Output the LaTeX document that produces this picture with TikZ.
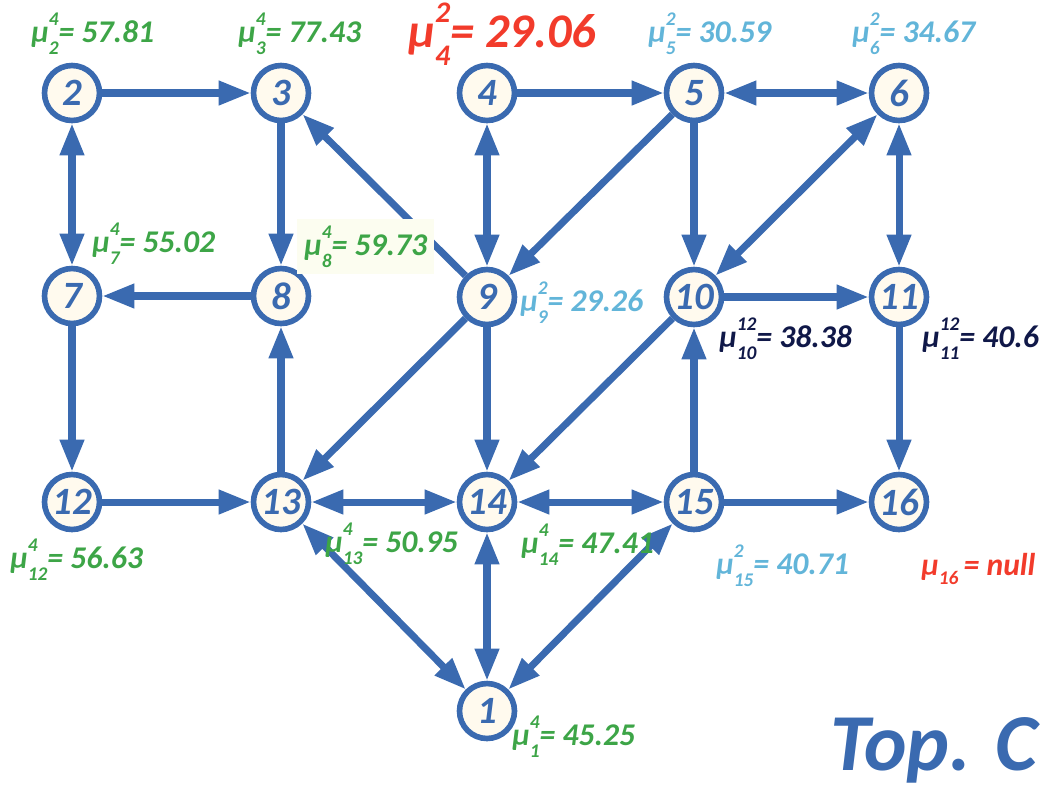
\documentclass[tikz,border=0pt]{standalone}
\usepackage{fontspec}
\setmainfont{Carlito}
\usetikzlibrary{arrows.meta}
\definecolor{nodeblue}{HTML}{3A6AB0}
\definecolor{nodefill}{HTML}{FFFAEE}
\definecolor{labgreen}{HTML}{3DA547}
\definecolor{labsky}{HTML}{62B5D9}
\definecolor{labnavy}{HTML}{101848}
\definecolor{labred}{HTML}{F23B2B}
\definecolor{labback}{HTML}{FCFDF0}
\newcommand{\scfont}{\fontsize{11}{11}\selectfont}
\newcommand{\mlab}[3]{μ\sbox0{\scfont #1}\sbox2{\scfont #2}%
  \rlap{\raisebox{1.05ex}{\usebox0}}\rlap{\raisebox{-0.8ex}{\usebox2}}%
  \kern\ifdim\wd0>\wd2 \wd0\else\wd2\fi\relax= #3}

\begin{document}
\begin{tikzpicture}[x=0.02cm,y=-0.02cm,
      vertex/.style={circle,draw=nodeblue,line width=3.2pt,fill=nodefill,minimum size=1.1cm,inner sep=0pt,
        text=nodeblue,font=\fontsize{22}{22}\selectfont\bfseries\itshape},
      link/.style={draw=nodeblue,line width=4pt,>={Triangle[length=0.64cm,width=0.46cm]}},
      value/.style={anchor=base west,inner sep=0pt,font=\fontsize{18}{18}\selectfont\bfseries\itshape}]

      \useasboundingbox (0,0) rectangle (1047,789);

      \node[vertex] (n2) at (72,93) {2};
      \node[vertex] (n3) at (281,93) {3};
      \node[vertex] (n4) at (487,93) {4};
      \node[vertex] (n5) at (694,93) {5};
      \node[vertex] (n6) at (899,93) {6};
      \node[vertex] (n7) at (72,296) {7};
      \node[vertex] (n8) at (281,296) {8};
      \node[vertex] (n9) at (487,297) {9};
      \node[vertex] (n10) at (694,297) {10};
      \node[vertex] (n11) at (899,297) {11};
      \node[vertex] (n12) at (72,502) {12};
      \node[vertex] (n13) at (281,502) {13};
      \node[vertex] (n14) at (487,502) {14};
      \node[vertex] (n15) at (694,502) {15};
      \node[vertex] (n16) at (899,502) {16};
      \node[vertex] (n1) at (487,711) {1};

      \foreach \a/\b in {n2/n3,n4/n5,n3/n8,n9/n3,n5/n9,n5/n10,n8/n7,n10/n11,n7/n12,n9/n13,
          n9/n14,n10/n14,n15/n10,n11/n16,n12/n13,n13/n8,n15/n16}
        \draw[link,->] (\a) -- (\b);
      \foreach \a/\b in {n5/n6,n2/n7,n4/n9,n6/n10,n6/n11,n13/n14,n14/n15,n1/n13,n1/n14,n1/n15}
        \draw[link,<->] (\a) -- (\b);

      \node[value,text=labgreen] (v2) at (31,42) {\mlab{4}{2}{57.81}};
      \node[value,text=labgreen] (v3) at (238,42) {\mlab{4}{3}{77.43}};
      \node[value,text=labred,font=\fontsize{27.5}{27.5}\selectfont\bfseries\itshape] (v4) at (408,47)
        {\def\scfont{\fontsize{17}{17}\selectfont}\mlab{2}{4}{29.06}};
      \node[value,text=labsky] (v5) at (648,42) {\mlab{2}{5}{30.59}};
      \node[value,text=labsky] (v6) at (852,42) {\mlab{2}{6}{34.67}};
      \node[value,text=labgreen] (v7) at (92,252) {\mlab{4}{7}{55.02}};
      \node[value,text=labgreen,fill=labback,inner xsep=4pt,inner ysep=4pt] (v8) at (297,255) {\mlab{4}{8}{59.73}};
      \node[value,text=labsky] (v9) at (520,311) {\mlab{2}{9}{29.26}};
      \node[value,text=labnavy] (v10) at (719,347) {\mlab{12}{10}{38.38}};
      \node[value,text=labnavy] (v11) at (922,347) {\mlab{12}{11}{40.6}};
      \node[value,text=labgreen] (v12) at (10,568) {\mlab{4}{12}{56.63}};
      \node[value,text=labgreen] (v13) at (325,552) {\mlab{4}{13}{50.95}};
      \node[value,text=labgreen] (v14) at (521,553) {\mlab{4}{14}{47.41}};
      \node[value,text=labsky] (v15) at (716,574) {\mlab{2}{15}{40.71}};
      \node[value,text=labred] (v16) at (921,575) {μ\raisebox{-0.6ex}{\scfont 16}\,= null};
      \node[value,text=labgreen] (v1) at (512,745) {\mlab{4}{1}{45.25}};
      \node[value,text=nodeblue,font=\fontsize{46}{46}\selectfont\bfseries\itshape] (title) at (830,770) {Top. C};
    \end{tikzpicture}
\end{document}
